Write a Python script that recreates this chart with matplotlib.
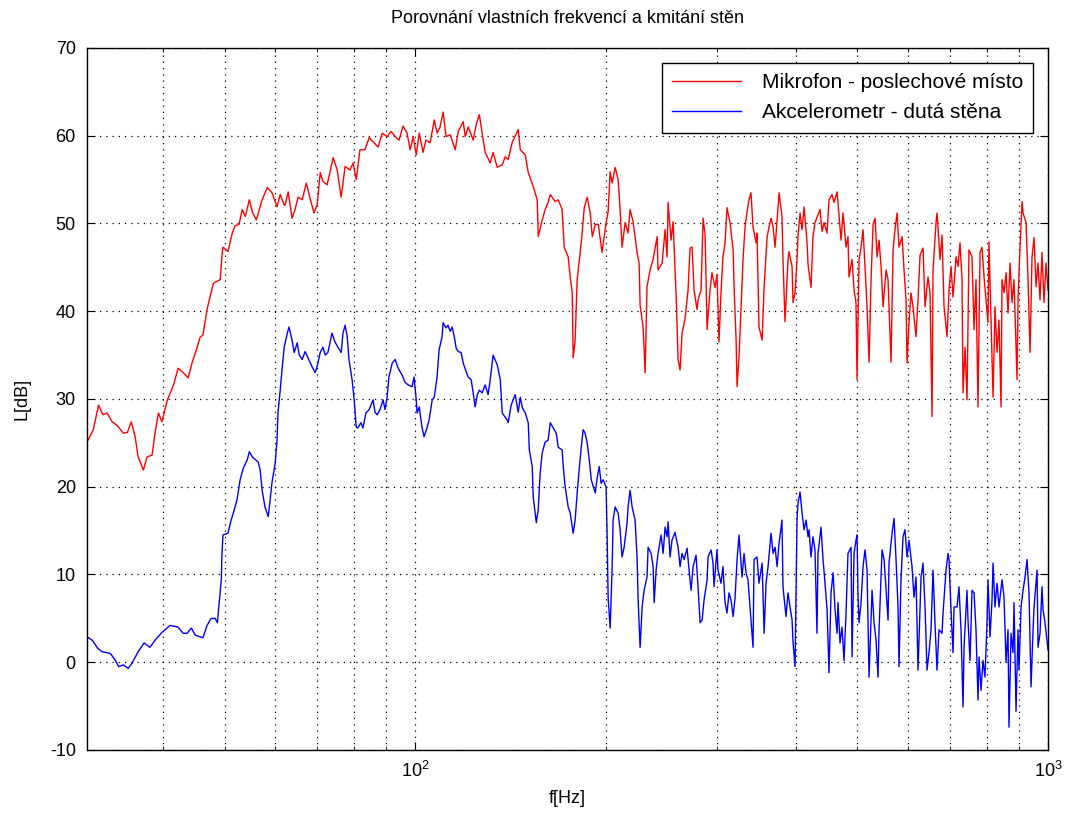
import matplotlib
matplotlib.use("Agg")
import numpy as np
import matplotlib.pyplot as plt
from matplotlib.ticker import FixedLocator, FuncFormatter, NullFormatter

# ----------------
# data: frequency [Hz], level [dB]
# ----------------
mic_f = [30.3, 31.0, 31.6, 32.1, 32.6, 33.2, 33.8, 34.6, 35.1, 35.6, 36.1, 36.5, 37.2, 37.7,
         38.4, 38.8, 39.3, 39.8, 40.6, 41.2, 41.6, 42.2, 43.0, 43.8, 44.4, 45.2, 45.7, 46.2,
         46.9, 47.4, 48.0, 49.2, 49.5, 49.7, 50.6, 51.4, 51.9, 52.7, 53.3, 53.9, 54.7, 55.3,
         56.1, 57.3, 58.4, 59.4, 60.5, 61.2, 62.1, 62.3, 63.0, 63.9, 64.6, 65.3, 66.3, 67.3,
         68.2, 69.2, 70.0, 70.8, 71.5, 72.6, 74.2, 75.3, 76.4, 77.5, 78.9, 79.8, 80.7, 81.8,
         83.3, 84.6, 86.1, 87.4, 88.7, 90.3, 91.6, 93.3, 94.3, 95.7, 97.1, 98.2, 99.3, 100.4,
         101.5, 102.9, 104.0, 105.6, 107.2, 108.3, 109.5, 110.7, 111.9, 113.6, 115.7, 117.0,
         119.1, 120.0, 121.3, 123.5, 124.9, 126.3, 128.1, 129.0, 131.4, 132.8, 134.8, 137.3,
         138.8, 140.3, 142.3, 145.5, 146.6, 149.3, 150.9, 153.7, 155.9, 156.5, 158.8, 160.5,
         162.2, 163.5, 166.5, 168.3, 170.7, 172.0, 174.5, 175.8, 177.1, 177.7, 179.0, 180.3,
         182.3, 183.6, 185.0, 187.0, 189.1, 190.5, 192.6, 194.7, 197.4, 200.3, 201.8, 203.3,
         204.8, 207.0, 209.3, 210.8, 212.3, 214.7, 217.0, 218.6, 221.0, 224.2, 225.9, 226.7,
         229.2, 230.9, 232.5, 235.1, 237.7, 241.2, 242.0, 245.6, 248.3,
         250.1, 251.0, 253.7, 255.6, 258.4, 260.3, 262.2, 264.1, 267.0, 269.9, 271.9, 273.9,
         275.9, 278.9, 279.9, 283.0, 285.1, 287.2, 289.3, 292.4, 294.5, 297.8, 299.9, 302.1,
         304.3, 306.5, 308.8, 311.0, 314.5, 318.0, 319.1, 321.5, 322.6, 324.9, 327.3, 329.7,
         332.1, 334.5, 336.9, 339.4, 341.9, 345.7, 346.9, 349.4, 353.4, 356.0, 359.9, 362.4,
         365.1, 367.8, 370.5, 374.5, 375.9, 379.9, 381.3, 384.1, 388.3, 389.7, 394.1, 395.5,
         398.4, 401.3, 402.7, 405.7, 408.7, 411.7, 416.2, 417.7, 422.2, 425.3, 428.4, 433.1,
         436.3, 439.5, 442.7, 447.6, 450.8, 455.8, 459.2, 464.2, 467.5, 470.9, 474.4, 479.6,
         483.0, 484.8, 490.2, 493.8, 497.3, 499.2,
         502.9, 506.5, 510.2, 513.9, 517.7, 521.5, 525.3, 529.2, 533.0, 536.9, 540.8, 544.8,
         548.8, 554.8, 558.8, 564.9, 569.1, 573.2, 577.4, 581.6, 588.0, 592.3, 596.6, 598.8,
         603.1, 607.5, 611.9, 618.7, 623.2, 627.8, 634.7, 639.3, 646.3, 651.0, 655.8, 658.2,
         665.4, 667.8, 675.2, 680.1, 685.1, 692.6, 697.6, 702.7, 707.9, 715.7, 720.9, 726.1,
         731.4, 734.1, 739.4, 744.8, 750.2, 758.5, 764.1, 769.6, 775.2, 780.9, 786.6, 792.4,
         798.2, 803.9, 806.8, 812.8, 818.8, 824.7, 830.8, 836.8, 843.0, 846.0, 852.2, 858.5,
         864.7, 871.0, 877.4, 883.8, 893.5, 896.7, 903.3, 909.9, 913.2, 923.3, 930.0, 936.8,
         943.6, 950.6, 957.5, 964.4, 971.4, 978.5, 985.7, 992.9, 1000.0]
mic_db = [25.1, 26.5, 29.3, 28.2, 28.4, 27.4, 27.0, 26.1, 26.2, 27.4, 25.7, 23.4, 21.9, 23.4,
          23.6, 26.1, 28.4, 27.4, 29.9, 31.0, 31.8, 33.5, 33.0, 32.4, 34.1, 35.8, 37.0, 37.3,
          40.2, 41.6, 43.2, 43.6, 46.2, 47.3, 46.8, 48.9, 49.7, 49.9, 51.6, 50.8, 52.7, 51.3,
          50.4, 52.7, 54.1, 53.5, 51.9, 53.3, 52.1, 52.1, 53.6, 50.6, 51.6, 53.0, 52.7, 54.6,
          52.9, 51.2, 52.1, 55.8, 54.8, 54.4, 57.5, 56.1, 53.0, 56.5, 56.1, 56.9, 55.0, 58.4,
          58.4, 59.8, 59.2, 58.7, 60.3, 59.9, 60.5, 59.8, 59.5, 61.1, 60.3, 58.4, 59.9, 57.8,
          60.3, 58.1, 59.5, 59.2, 61.8, 60.3, 61.0, 62.7, 59.9, 60.1, 58.4, 60.5,
          61.6, 59.9, 61.0, 59.5, 61.3, 62.4, 59.5, 58.1, 56.9, 58.1, 56.4, 56.7,
          57.6, 57.3, 59.2, 60.7, 58.4, 57.8, 55.8, 54.2, 52.7, 48.5, 50.4, 51.6,
          52.4, 53.3, 52.5, 52.7, 51.6, 47.3, 46.2, 43.9, 42.1, 34.7, 36.7, 43.6,
          46.7, 48.9, 51.8, 53.0, 51.2, 48.5, 49.9, 49.9, 46.7, 50.1, 51.3, 55.9,
          54.6, 56.4, 55.0, 51.6, 47.3, 50.1, 48.9, 51.6, 50.2, 46.7, 45.5, 40.7,
          38.2, 33.0, 42.8, 44.7, 45.9, 48.5, 44.7, 45.5, 49.3,
          46.2, 52.4, 48.1, 50.2, 42.1, 34.5, 33.3, 37.5, 39.2, 42.4, 47.2, 47.3,
          42.4, 40.2, 41.3, 42.4, 50.6, 48.7, 37.9, 42.4, 44.4, 42.7, 44.2, 36.5,
          42.1, 46.2, 47.8, 51.8, 50.1, 47.0, 42.8, 36.7, 31.4, 34.8, 40.5, 45.9,
          49.6, 51.3, 52.7, 53.5, 49.6, 47.8, 48.9, 38.2, 36.7, 42.8, 48.5, 49.6,
          50.6, 49.6, 47.3, 51.9, 53.5, 50.8, 45.9, 38.8, 45.9, 46.8, 45.1, 41.0,
          42.1, 45.9, 48.5, 51.2, 49.3, 51.9, 47.8, 45.3, 42.7, 48.5, 50.1, 51.0,
          51.6, 49.1, 50.1, 48.9, 52.7, 53.3, 52.4, 53.6, 51.0, 48.1, 51.2, 47.3,
          48.5, 43.9, 45.9, 42.4, 41.0, 32.2,
          45.9, 47.3, 49.3, 45.1, 40.5, 34.2, 43.6, 49.9, 50.6, 46.2, 48.1, 45.1,
          40.5, 44.7, 43.6, 34.2, 47.0, 49.3, 51.2, 47.3, 48.5, 44.7, 41.3, 34.1,
          38.7, 42.1, 40.5, 37.1, 41.3, 46.4, 47.2, 40.5, 43.9, 42.1, 28.0, 44.7,
          50.1, 51.2, 45.9, 48.7, 40.5, 37.1, 42.4, 45.1, 41.6, 46.2, 45.1, 47.8,
          43.6, 30.7, 35.9, 29.9, 47.0, 46.2, 37.9, 43.6, 29.1, 46.7, 47.3, 43.9,
          41.3, 38.7, 47.9, 39.0, 30.2, 40.5, 35.3, 39.0, 29.1, 43.6, 42.1, 44.4,
          39.8, 45.5, 41.0, 43.6, 32.2, 41.3, 47.3, 52.5, 51.2, 50.1, 43.6, 35.3,
          46.2, 48.4, 42.8, 45.5, 41.3, 46.7, 41.0, 45.5, 42.4]

acc_f = [30.3, 30.9, 31.5, 32.0, 33.0, 33.6, 34.0, 34.6, 35.2, 35.7, 36.5, 37.3, 38.1, 38.8,
         39.8, 41.0, 42.2, 43.0, 43.6, 44.3, 44.9, 45.7, 46.2, 46.9, 47.6, 48.3, 48.7, 49.0,
         49.4, 49.5, 49.7, 50.6, 51.2, 51.6, 52.3, 52.9, 53.5, 54.3, 54.7, 55.3, 55.9, 56.5,
         56.9, 57.3, 57.9, 58.6, 59.0, 59.4, 60.1, 60.5, 60.7, 61.2, 61.6, 62.1,
         62.8, 63.2, 63.9, 64.4, 65.1, 65.6, 66.3, 67.0, 67.7, 68.7, 69.5, 70.0, 70.8, 71.5,
         72.1, 72.8, 73.9, 74.7, 75.5, 76.4, 76.9, 77.5, 78.1, 78.6, 79.5, 80.1, 80.7, 81.2,
         82.1, 82.7, 83.6, 84.6, 85.8, 86.4, 87.1, 88.0, 89.0, 89.6, 90.3, 90.9, 92.0, 93.0,
         94.0, 95.4, 96.4, 97.5, 98.9, 99.6, 100.4, 100.7, 101.5, 102.5, 103.3, 104.4, 105.2,
         106.4, 107.2, 108.3, 109.1, 110.3, 110.7, 111.9, 112.7, 113.6, 114.4, 115.3, 116.1,
         117.0, 118.2, 119.1, 120.4, 121.3, 122.6, 123.5, 124.4, 125.4, 126.3,
         127.6, 129.0, 130.4, 131.4, 132.8, 134.8, 136.3, 137.3, 139.8, 140.3, 141.8, 143.9,
         145.5, 146.6, 147.7, 149.3, 150.9, 151.5, 153.1, 153.7, 155.4, 156.5, 157.6, 158.8,
         160.5, 162.2, 163.5, 165.3, 167.1, 168.3, 170.7, 171.4, 172.6, 174.5, 175.8, 177.7,
         179.0, 180.3, 181.6, 183.0, 184.3, 185.6, 187.0, 188.4, 189.8, 191.2, 192.6, 194.0,
         195.4, 196.7, 198.2, 200.3, 201.1, 201.8, 203.3, 204.8, 205.5, 207.0, 209.3, 210.8,
         212.3, 213.9, 216.2, 217.0, 218.6, 220.2, 222.6, 224.2, 225.1, 226.7, 228.4, 230.0,
         232.5, 233.4, 236.0, 237.7, 238.6, 240.3, 242.0, 244.7, 246.5, 248.3,
         250.1, 251.0, 252.8, 254.6, 257.4, 260.3, 262.2, 264.1, 266.1, 269.0, 270.9, 272.9,
         274.9, 277.9, 279.9, 282.0, 284.1, 286.1, 289.3, 290.3, 293.5, 295.6, 296.7, 299.9,
         301.0, 304.3, 306.5, 308.8, 311.0, 313.3, 315.6, 318.0, 320.3, 322.6, 324.9, 328.5,
         330.9, 333.3, 335.7, 339.4, 341.9, 343.2, 346.9, 349.4, 353.4, 356.0, 358.5, 361.1,
         365.1, 367.8, 370.5, 373.2, 375.9, 379.9, 381.3, 385.5, 388.3, 391.2, 394.1, 395.5,
         398.4, 401.3, 402.7, 405.7, 408.7, 411.7, 414.7, 417.7, 419.2, 422.2, 425.3, 428.4,
         431.5, 433.1, 437.9, 441.1, 444.3, 447.6, 450.8, 454.1, 457.5, 460.8, 464.2, 465.8,
         469.2, 472.6, 476.1, 479.6, 483.0, 488.4, 490.2, 493.8, 497.3, 499.2,
         501.0, 502.9, 506.5, 510.2, 513.9, 517.7, 521.5, 527.2, 531.1, 534.9, 538.8, 540.8,
         546.8, 550.8, 554.8, 558.8, 560.8, 567.0, 571.2, 575.3, 579.5, 581.6, 585.8, 590.1,
         594.4, 598.8, 603.1, 609.7, 614.2, 618.7, 623.2, 630.1, 634.7, 639.3, 644.0, 648.6,
         653.4, 658.2, 662.9, 667.8, 672.6, 680.1, 682.6, 690.1, 695.1, 697.6, 702.7, 707.9,
         710.5, 718.3, 723.4, 728.7, 734.1, 736.8, 744.8, 747.5, 753.0, 758.5, 764.1, 769.6,
         775.2, 778.1, 783.7, 789.5, 795.2, 801.0, 803.9, 809.9, 815.8, 818.8, 824.7, 830.8,
         836.8, 846.0, 852.2, 858.5, 864.7, 867.8, 874.2, 880.6, 883.8, 890.2, 896.7, 899.9,
         906.6, 913.2, 919.8, 926.6, 933.3, 940.2, 947.1, 950.6, 961.0, 964.4, 971.4, 978.5,
         982.1, 989.2, 996.5, 1000.0]
acc_db = [2.9, 2.5, 1.6, 1.2, 1.0, 0.2, -0.5, -0.3, -0.7, -0.1, 1.2, 2.2, 1.7, 2.5,
          3.4, 4.2, 4.0, 3.3, 3.3, 3.9, 3.1, 2.9, 2.8, 4.2, 5.0, 5.0, 4.5, 6.7,
          9.4, 12.2, 14.5, 14.7, 16.2, 17.0, 18.5, 20.8, 22.1, 23.1, 24.0, 23.4, 23.1, 22.8,
          21.9, 19.6, 17.7, 16.6, 18.5, 20.5, 22.7, 25.3, 28.4, 31.0, 33.3, 35.9,
          37.5, 38.2, 36.7, 35.3, 36.4, 35.0, 34.5, 35.4, 34.7, 33.7, 33.0, 33.7, 35.3, 35.9,
          35.0, 35.3, 37.5, 36.5, 35.9, 35.3, 37.5, 38.4, 37.1, 34.5, 32.2, 29.9, 26.8, 26.7,
          27.3, 26.7, 28.4, 28.8, 29.9, 28.5, 28.2, 28.8, 29.9, 28.8, 30.2, 32.5, 34.1, 34.5,
          33.5, 32.7, 31.9, 31.6, 31.4, 32.5, 29.9, 28.4, 29.1, 26.8, 25.7, 26.7, 27.6,
          29.9, 30.2, 32.5, 35.6, 37.1, 38.7, 38.1, 38.4, 37.7, 38.2, 37.1, 35.8,
          35.4, 35.3, 34.1, 33.1, 32.5, 32.2, 30.7, 29.1, 30.5, 31.0,
          30.7, 31.6, 30.5, 32.2, 35.0, 33.9, 32.2, 28.4, 27.6, 27.3, 29.3, 30.5,
          28.5, 30.2, 29.0, 28.4, 27.3, 24.2, 22.3, 18.8, 15.9, 17.4, 21.6, 23.9,
          25.1, 25.3, 27.3, 26.7, 26.1, 24.5, 24.2, 22.3, 20.0, 17.7, 17.0, 14.7,
          16.2, 19.3, 21.9, 24.5, 26.5, 26.1, 25.0, 23.1, 20.8, 20.0, 19.3, 21.1,
          22.3, 20.4, 20.8, 20.0, 14.3, 7.4, 3.9, 10.9, 16.2, 17.7, 17.0, 15.1,
          12.0, 13.1, 15.9, 17.7, 19.6, 17.7, 16.2, 12.0, 7.1, 1.7, 6.3, 8.2,
          9.7, 13.1, 12.4, 10.9, 6.8, 10.5, 12.4, 14.5, 12.4, 15.4,
          14.3, 16.0, 12.0, 13.9, 14.8, 13.1, 10.9, 12.4, 11.7, 13.0, 10.5, 8.2,
          10.9, 12.2, 8.6, 4.5, 4.8, 7.1, 9.4, 12.0, 12.8, 11.3, 8.6, 12.8,
          10.5, 9.0, 10.9, 6.8, 5.6, 7.9, 7.1, 5.2, 7.4, 11.7, 14.5, 9.7,
          12.4, 10.2, 9.4, 4.8, 1.7, 11.7, 12.0, 9.0, 11.3, 3.3, 9.0, 10.9,
          14.7, 12.4, 13.1, 10.9, 13.6, 16.2, 8.6, 5.2, 7.9, 6.3, 4.8, 2.2,
          -0.5, 16.4, 18.1, 19.4, 17.0, 15.1, 16.2, 14.3, 15.1, 12.0, 14.3, 12.8,
          3.3, 12.4, 15.4, 11.7, 9.0, 6.0, -1.2, 7.9, 10.2, 6.0, 3.3, 6.8,
          2.2, 4.0, 0.2, 5.6, 12.4, 13.1, 0.6, 12.4, 13.9, 14.5,
          7.4, 4.5, 6.8, 10.9, 12.8, 10.5, -1.7, 8.2, 4.5, 2.5, -1.7, 3.7,
          12.8, 11.7, 8.2, 4.8, 11.3, 14.7, 16.4, 11.7, 6.3, -0.5, 9.4, 14.3,
          15.1, 12.0, 13.9, 10.9, 7.4, 9.7, -0.9, 9.7, 11.3, 6.3, -0.9, 1.1,
          3.7, 10.5, 4.5, -0.9, 3.7, 3.3, 5.6, 10.5, 12.4, 11.7, 6.0, 1.1,
          6.3, 6.3, 8.6, 3.7, -5.1, 1.7, 8.2, 4.8, 0.2, 8.2, 7.9, 3.7,
          -4.3, 0.6, -3.2, 0.2, -1.7, 4.5, 9.4, 2.9, 7.1, 11.3, 6.3, 9.0,
          6.3, 9.4, 7.4, 0.0, 3.7, -7.4, 3.3, 1.1, 6.8, -5.6, 3.7, -0.9,
          6.3, 8.2, 9.7, 11.7, 7.9, -2.8, 3.7, 6.3, 10.5, 1.7, 3.3, 8.6,
          6.0, 4.5, 2.5, 1.4]

labels = ["Mikrofon - poslechové místo", "Akcelerometr - dutá stěna"]
yticks = [-10, 0, 10, 20, 30, 40, 50, 60, 70]

plt.rcParams['font.family'] = ['Liberation Sans Narrow', 'Liberation Sans', 'DejaVu Sans']
plt.rcParams['axes.unicode_minus'] = False

fig = plt.figure(figsize=(10.66, 8.23), dpi=100)
ax = fig.add_axes([0.0816, 0.0887, 0.9015, 0.853])

ax.plot(mic_f, mic_db, color=(1, 0, 0), lw=1.0, label=labels[0])
ax.plot(acc_f, acc_db, color=(0, 0, 1), lw=1.0, label=labels[1])

ax.set_xscale('log')
ax.set_xlim(30.3, 1000)
ax.set_ylim(-10, 70)
ax.yaxis.set_major_locator(FixedLocator(yticks))
ax.xaxis.set_major_locator(FixedLocator([100, 1000]))
ax.xaxis.set_minor_locator(FixedLocator([40, 50, 60, 70, 80, 90, 200, 300, 400, 500, 600, 700, 800, 900]))
ax.xaxis.set_major_formatter(FuncFormatter(lambda v, p: r'$\mathregular{10^{%d}}$' % round(np.log10(v))))
ax.xaxis.set_minor_formatter(NullFormatter())

grid_ls = (0, (1, 4))
ax.grid(True, which='major', ls=grid_ls, color='k', lw=0.9)
ax.grid(True, which='minor', axis='x', ls=grid_ls, color='k', lw=0.9)
ax.tick_params(which='both', direction='in', top=True, right=True, labelsize=13)
ax.tick_params(axis='y', which='major', pad=8)
ax.tick_params(axis='x', which='major', pad=8)
ax.tick_params(which='major', length=6)
ax.tick_params(which='minor', length=3)
for s in ax.spines.values():
    s.set_linewidth(1.0)

ax.set_xlabel('f[Hz]', fontsize=13, labelpad=6)
ax.set_ylabel('L[dB]', fontsize=13, labelpad=14)
ax.set_title('Porovnání vlastních frekvencí a kmitání stěn', fontsize=13, pad=18)

leg = ax.legend(loc='upper right', fontsize=15, fancybox=False, framealpha=1,
                edgecolor='k', borderaxespad=0.7, handlelength=3.3, labelspacing=0.55,
                borderpad=0.5, handletextpad=1.0)
leg.get_frame().set_linewidth(1.0)

fig.savefig("out.png", dpi=100)
